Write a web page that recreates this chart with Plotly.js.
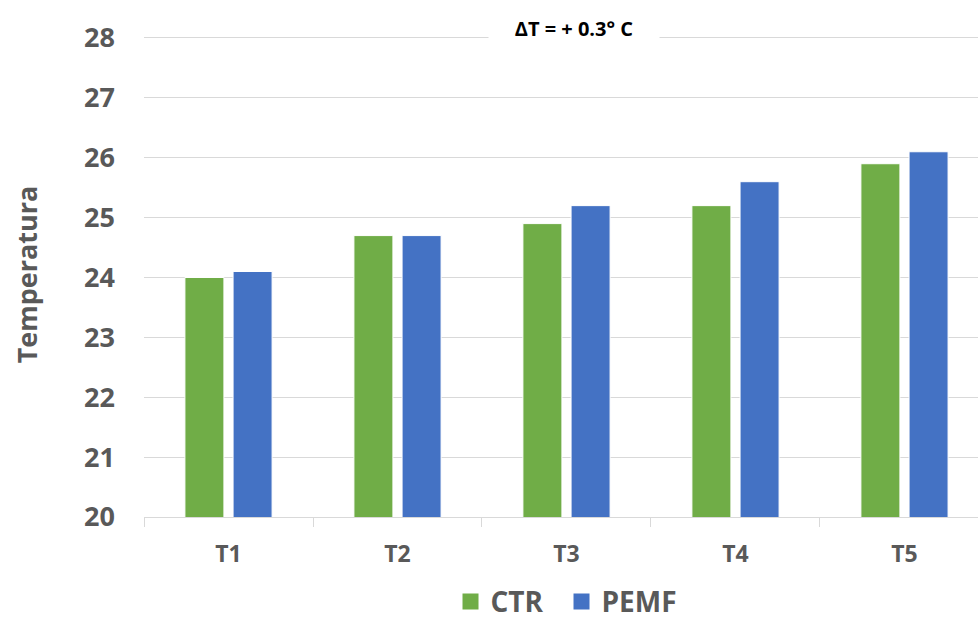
<!DOCTYPE html>
<html>
<head>
<meta charset="utf-8">
<script src="https://cdn.plot.ly/plotly-3.0.1.min.js"></script>
<style>html,body{margin:0;padding:0;background:#fff;}#chart{width:978px;height:621px;}</style>
</head>
<body>
<div id="chart"></div>
<script>
const categories = ["T1", "T2", "T3", "T4", "T5"];
const ctrValues = [24.0, 24.7, 24.9, 25.2, 25.9];
const pemfValues = [24.1, 24.7, 25.2, 25.6, 26.1];
const seriesNames = ["CTR", "PEMF"];
const seriesColors = ["#70AD47", "#4472C4"];
const yTickValues = [20, 21, 22, 23, 24, 25, 26, 27, 28];
const titleText = "ΔT = + 0.3° C";
const yTitleText = "Temperatura";

const font = "'Open Sans', 'Liberation Sans', sans-serif";
const gray = "#595959";

const traces = [
  {type: "bar", name: seriesNames[0], x: categories, y: ctrValues, showlegend: false,
   marker: {color: seriesColors[0], line: {color: "#ffffff", width: 1}}},
  {type: "bar", name: seriesNames[1], x: categories, y: pemfValues, showlegend: false,
   marker: {color: seriesColors[1], line: {color: "#ffffff", width: 1}}},
  {type: "scatter", mode: "markers", name: seriesNames[0], x: [null], y: [null], legendwidth: 66,
   marker: {symbol: "square", size: 20, color: seriesColors[0]}},
  {type: "scatter", mode: "markers", name: seriesNames[1], x: [null], y: [null], legendwidth: 90,
   marker: {symbol: "square", size: 20, color: seriesColors[1]}}
];

const layout = {
  width: 978, height: 621,
  margin: {l: 144, r: 0, t: 32, b: 104, autoexpand: false},
  paper_bgcolor: "#fff", plot_bgcolor: "#fff",
  barmode: "group", bargap: 0.43, bargroupgap: 0.19,
  showlegend: true,
  legend: {orientation: "h", x: 0.515, xanchor: "center", y: -0.175, yanchor: "middle",
           font: {family: font, size: 28, color: gray, weight: "bold"}, itemwidth: 30,
           tracegroupgap: 0, traceorder: "normal"},
  xaxis: {
    type: "category", range: [-0.5, 4.435],
    tickson: "boundaries", ticks: "outside", ticklen: 9, tickcolor: "#d9d9d9",
    showline: true, linecolor: "#d9d9d9", linewidth: 1,
    showgrid: false, ticklabelstandoff: 16,
    tickfont: {family: font, size: 23, color: gray, weight: "bold"}
  },
  yaxis: {
    range: [20, 28.1], tickvals: yTickValues, ticktext: yTickValues.map(String),
    showgrid: true, gridcolor: "#d9d9d9", gridwidth: 1, zeroline: false,
    ticks: "", ticklabelstandoff: 28, showline: false,
    tickfont: {family: font, size: 27, color: gray, weight: "bold"},
    title: {text: yTitleText, standoff: 38, font: {family: font, size: 27, color: gray, weight: "bold"}}
  },
  annotations: [{
    text: "<b>" + titleText + "</b>", xref: "paper", yref: "paper", x: 0.516, y: 1.008, yanchor: "middle",
    showarrow: false, bgcolor: "#ffffff", borderpad: 4,
    font: {family: font, size: 20, color: "#000"}, width: 162
  }]
};

Plotly.newPlot("chart", traces, layout, {displayModeBar: false, staticPlot: true});
</script>
</body>
</html>
